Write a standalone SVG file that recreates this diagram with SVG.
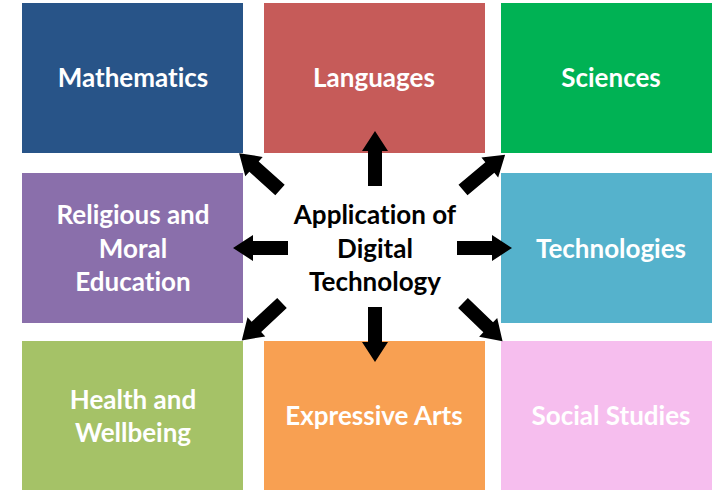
<svg xmlns="http://www.w3.org/2000/svg" width="712" height="492" viewBox="0 0 712 492">
  <style>
    .box { stroke: none; }
    .lbl { font-family: Lato, "Open Sans", "Liberation Sans", sans-serif; font-weight: bold; font-size: 26px; fill: #ffffff; text-anchor: middle; font-variant-ligatures: none; }
    .hub { font-family: Lato, "Open Sans", "Liberation Sans", sans-serif; font-weight: bold; font-size: 26px; fill: #000000; text-anchor: middle; font-variant-ligatures: none; }
    .arrow { fill: #000000; }
  </style>
  <defs>
    <!-- block arrow pointing along +x, tail at origin, tip at x=55 -->
    <path id="blockArrow" class="arrow" d="M0,-7 H35 V-13 L55,0 L35,13 V7 H0 Z"/>
  </defs>
  <rect width="712" height="492" fill="#ffffff"/>

  <g id="mathematics">
    <rect class="box" x="22" y="3" width="221" height="150" fill="#285488"/>
    <text class="lbl" x="133" y="87">Mathematics</text>
  </g>
  <g id="languages">
    <rect class="box" x="264" y="3" width="221" height="150" fill="#c65b59"/>
    <text class="lbl" x="374" y="87">Languages</text>
  </g>
  <g id="sciences">
    <rect class="box" x="501" y="3" width="221" height="150" fill="#00b254"/>
    <text class="lbl" x="611" y="87">Sciences</text>
  </g>
  <g id="religious-moral-education">
    <rect class="box" x="22" y="173" width="221" height="150" fill="#8a6fab"/>
    <text class="lbl" x="133" y="224">Religious and</text>
    <text class="lbl" x="133" y="258">Moral</text>
    <text class="lbl" x="133" y="291">Education</text>
  </g>
  <g id="technologies">
    <rect class="box" x="501" y="173" width="221" height="150" fill="#55b2cc"/>
    <text class="lbl" x="611" y="258">Technologies</text>
  </g>
  <g id="health-wellbeing">
    <rect class="box" x="22" y="341" width="221" height="149" fill="#a5c267"/>
    <text class="lbl" x="133" y="409">Health and</text>
    <text class="lbl" x="133" y="442">Wellbeing</text>
  </g>
  <g id="expressive-arts">
    <rect class="box" x="264" y="341" width="221" height="149" fill="#f8a052"/>
    <text class="lbl" x="374" y="425">Expressive Arts</text>
  </g>
  <g id="social-studies">
    <rect class="box" x="501" y="341" width="221" height="149" fill="#f6beee"/>
    <text class="lbl" x="611" y="425">Social Studies</text>
  </g>

  <g id="hub">
    <text class="hub" x="375" y="224">Application of</text>
    <text class="hub" x="375" y="258">Digital</text>
    <text class="hub" x="375" y="291">Technology</text>
  </g>

  <g id="connectors">
    <use href="#blockArrow" transform="translate(375,186) rotate(-90)"/>
    <use href="#blockArrow" transform="translate(375,307) rotate(90)"/>
    <use href="#blockArrow" transform="translate(288,248) rotate(180)"/>
    <use href="#blockArrow" transform="translate(457,248)"/>
    <use href="#blockArrow" transform="translate(280,190) rotate(-138)"/>
    <use href="#blockArrow" transform="translate(463,190) rotate(-40)"/>
    <use href="#blockArrow" transform="translate(282,303) rotate(137)"/>
    <use href="#blockArrow" transform="translate(463,303) rotate(44)"/>
  </g>
</svg>
